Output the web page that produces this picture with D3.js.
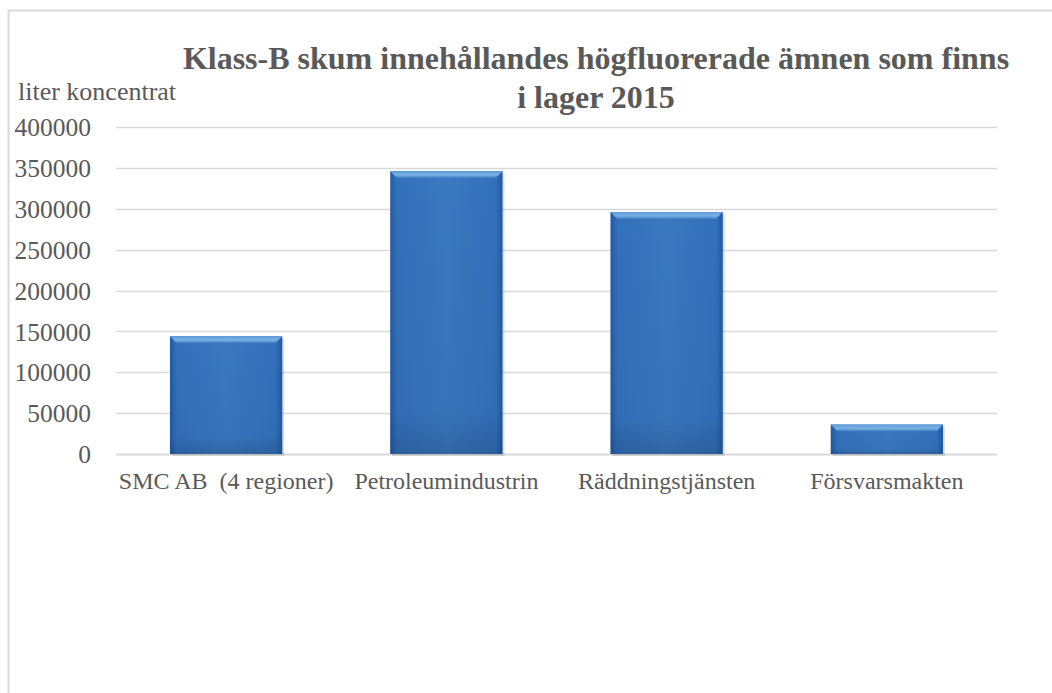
<!DOCTYPE html>
<html>
<head>
<meta charset="utf-8">
<script src="https://cdn.jsdelivr.net/npm/d3@7"></script>
<style>
  body { margin: 0; background: #fff; }
  text { font-family: "Liberation Serif", "Times New Roman", serif; fill: #595959; }
  .title { font-weight: bold; font-size: 32px; text-anchor: middle; }
</style>
</head>
<body>
<div id="chart"></div>
<script>
  var categories = ['SMC AB  (4 regioner)', 'Petroleumindustrin', 'Räddningstjänsten', 'Försvarsmakten'],
    values = [144000, 346000, 296000, 36000],
    yTicks = [0, 50000, 100000, 150000, 200000, 250000, 300000, 350000, 400000],
    titleLines = ['Klass-B skum innehållandes högfluorerade ämnen som finns', 'i lager 2015'],
    yLabel = 'liter koncentrat';

  var width = 1052, height = 693,
    margin = { left: 116, right: 55, top: 127, bottom: 239 };

  var svg = d3.select('#chart')
    .append('svg')
    .attr('width', width)
    .attr('height', height);

  // outer frame, only left and top are visible in the picture
  svg.append('rect')
    .attr('x', 8.5)
    .attr('y', 10.5)
    .attr('width', width)
    .attr('height', height)
    .attr('fill', '#fff')
    .attr('stroke', '#d9d9d9')
    .attr('stroke-width', 2);

  var defs = svg.append('defs');
  var grad = defs.append('linearGradient')
    .attr('id', 'barGrad')
    .attr('x1', 0).attr('x2', 1).attr('y1', 0).attr('y2', 0);
  grad.append('stop').attr('offset', '0%').attr('stop-color', '#1f5aa3');
  grad.append('stop').attr('offset', '6%').attr('stop-color', '#3370bb');
  grad.append('stop').attr('offset', '50%').attr('stop-color', '#3a78c0');
  grad.append('stop').attr('offset', '94%').attr('stop-color', '#3370bb');
  grad.append('stop').attr('offset', '100%').attr('stop-color', '#1f5aa3');

  var vgrad = defs.append('linearGradient')
    .attr('id', 'barShade')
    .attr('x1', 0).attr('x2', 0).attr('y1', 0).attr('y2', 1);
  vgrad.append('stop').attr('offset', '0%').attr('stop-color', '#000').attr('stop-opacity', 0);
  vgrad.append('stop').attr('offset', '85%').attr('stop-color', '#000').attr('stop-opacity', 0.04);
  vgrad.append('stop').attr('offset', '100%').attr('stop-color', '#000').attr('stop-opacity', 0.15);

  var topGrad = defs.append('linearGradient')
    .attr('id', 'topGrad')
    .attr('x1', 0).attr('x2', 0).attr('y1', 0).attr('y2', 1);
  topGrad.append('stop').attr('offset', '0%').attr('stop-color', '#5f9ad8');
  topGrad.append('stop').attr('offset', '55%').attr('stop-color', '#7ab2e6');
  topGrad.append('stop').attr('offset', '100%').attr('stop-color', '#3a78c0');

  var x = d3.scaleBand()
    .domain(categories)
    .range([margin.left, width - margin.right])
    .paddingInner(0.49)
    .paddingOuter(0.245);

  var y = d3.scaleLinear()
    .domain([0, 400000])
    .range([height - margin.bottom, margin.top]);

  // grid
  svg.append('g')
    .selectAll('line')
    .data(yTicks)
    .enter()
    .append('line')
    .attr('x1', margin.left)
    .attr('x2', width - margin.right)
    .attr('y1', function (d) { return Math.round(y(d)) + 0.5; })
    .attr('y2', function (d) { return Math.round(y(d)) + 0.5; })
    .attr('stroke', '#d9d9d9')
    .attr('stroke-width', function (d) { return d === 0 ? 2 : 1.5; });

  // y axis labels
  var yAxis = d3.axisLeft(y).tickValues(yTicks).tickFormat(d3.format('d')).tickSize(0).tickPadding(25);
  var yg = svg.append('g')
    .attr('transform', 'translate(' + margin.left + ',0)')
    .call(yAxis);
  yg.select('.domain').remove();
  yg.selectAll('text')
    .attr('fill', '#595959')
    .style('font-family', '"Liberation Serif", serif')
    .style('font-size', '25.5px')
    .attr('dy', '0.34em');

  // bars
  var bars = svg.append('g')
    .selectAll('.bar')
    .data(values)
    .enter()
    .append('g')
    .classed('bar', true);

  bars.append('rect')
    .attr('x', function (d, i) { return x(categories[i]) + 2; })
    .attr('y', function (d) { return y(d) + 2; })
    .attr('width', x.bandwidth())
    .attr('height', function (d) { return y(0) - y(d); })
    .attr('fill', '#000')
    .attr('opacity', 0.12);

  bars.append('rect')
    .attr('x', function (d, i) { return x(categories[i]); })
    .attr('y', function (d) { return y(d); })
    .attr('width', x.bandwidth())
    .attr('height', function (d) { return y(0) - y(d); })
    .attr('fill', 'url(#barGrad)');

  bars.append('rect')
    .attr('x', function (d, i) { return x(categories[i]); })
    .attr('y', function (d) { return y(d); })
    .attr('width', x.bandwidth())
    .attr('height', function (d) { return y(0) - y(d); })
    .attr('fill', 'url(#barShade)');

  // bevelled top edge
  bars.append('path')
    .attr('d', function (d, i) {
      var x0 = x(categories[i]), x1 = x0 + x.bandwidth(), t = y(d), b = 7;
      return 'M' + x0 + ',' + t + 'L' + x1 + ',' + t + 'L' + (x1 - b) + ',' + (t + b) +
        'L' + (x0 + b) + ',' + (t + b) + 'Z';
    })
    .attr('fill', 'url(#topGrad)');

  // x labels
  var xAxis = d3.axisBottom(x).tickSize(0).tickPadding(18);
  var xg = svg.append('g')
    .attr('transform', 'translate(0,' + y(0) + ')')
    .call(xAxis);
  xg.select('.domain').remove();
  xg.selectAll('text')
    .attr('fill', '#595959')
    .style('font-family', '"Liberation Serif", serif')
    .style('font-size', '24px')
    .style('white-space', 'pre')
    .attr('xml:space', 'preserve');

  // title
  svg.append('g')
    .selectAll('text')
    .data(titleLines)
    .enter()
    .append('text')
    .classed('title', true)
    .attr('x', 596)
    .attr('y', function (d, i) { return 69 + i * 39; })
    .text(function (d) { return d; });

  svg.append('text')
    .attr('x', 18)
    .attr('y', 100)
    .style('font-size', '26px')
    .text(yLabel);
</script>
</body>
</html>
